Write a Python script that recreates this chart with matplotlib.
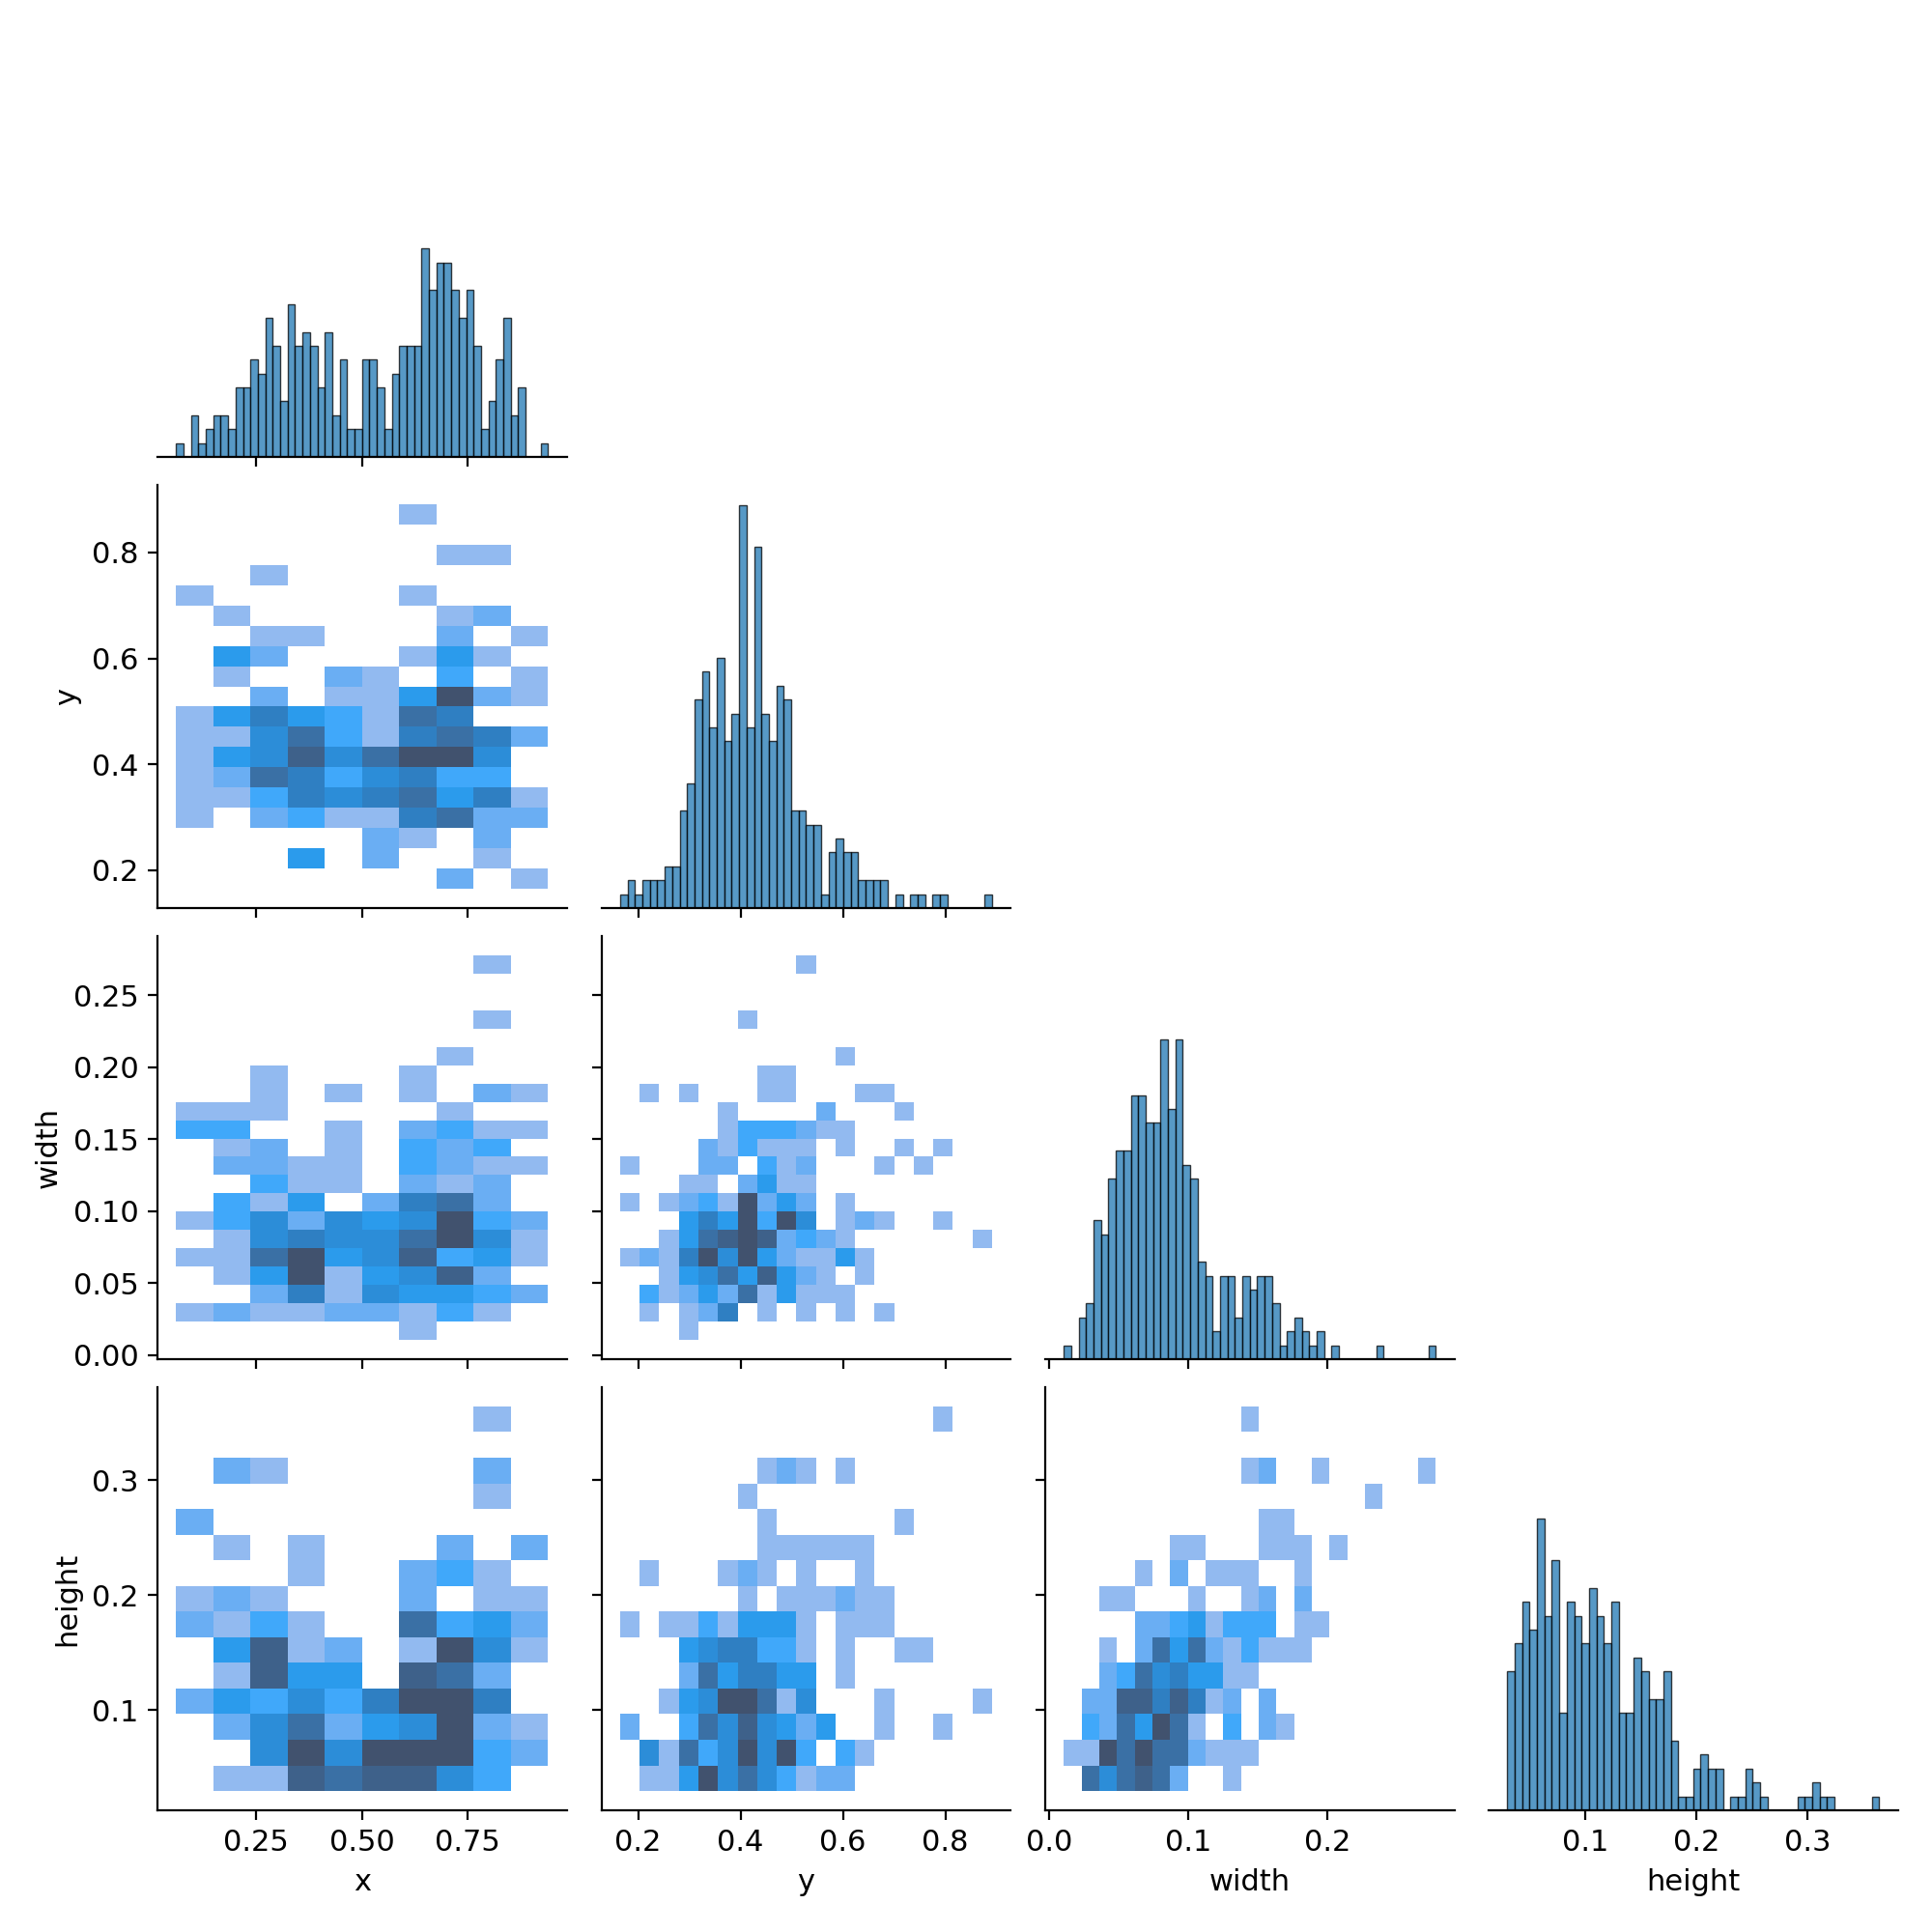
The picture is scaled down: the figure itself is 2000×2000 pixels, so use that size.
import numpy as np
import matplotlib
matplotlib.use('Agg')
import matplotlib.pyplot as plt
from matplotlib.colors import ListedColormap

# counts per bin of the diagonal histograms (50 bins each)
x_counts = [1,0,3,1,2,3,3,2,5,5,7,6,10,8,4,11,8,9,8,5,9,3,7,2,2,7,7,5,2,6,8,8,8,15,12,14,14,12,10,12,8,2,4,7,10,3,5,0,0,1]
y_counts = [1,2,1,2,2,2,3,3,7,9,15,17,13,18,12,14,29,13,26,14,12,16,15,7,7,6,6,1,4,5,4,4,2,2,2,2,0,1,0,1,1,0,1,1,0,0,0,0,0,1]
width_counts = [1,0,3,4,10,9,13,15,15,19,19,17,17,23,18,23,14,13,7,6,2,6,6,3,6,5,6,6,4,1,2,3,2,1,2,0,1,0,0,0,0,0,1,0,0,0,0,0,0,1]
height_counts = [10,12,15,13,21,14,18,7,15,14,12,16,14,12,15,7,7,11,10,8,8,10,5,1,1,3,4,3,3,0,1,1,3,2,1,0,0,0,0,1,1,2,1,1,0,0,0,0,0,1]

x_range = (0.061, 0.9398)
y_range = (0.1648, 0.8912)
width_range = (0.0106, 0.2778)
height_range = (0.0295, 0.3641)

x_ticks = [0.25, 0.50, 0.75]
y_ticks = [0.2, 0.4, 0.6, 0.8]
width_xticks = [0.0, 0.1, 0.2]
width_yticks = [0.00, 0.05, 0.10, 0.15, 0.20, 0.25]
height_ticks = [0.1, 0.2, 0.3]

# 2d histograms, colour step per cell, top row first
y_vs_x = [
    [0,0,0,0,0,0,1,0,0,0],
    [0,0,0,0,0,0,0,0,0,0],
    [0,0,0,0,0,0,0,1,1,0],
    [0,0,1,0,0,0,0,0,0,0],
    [1,0,0,0,0,0,1,0,0,0],
    [0,1,0,0,0,0,0,1,2,0],
    [0,0,1,1,0,0,0,2,0,1],
    [0,4,2,0,0,0,1,4,1,0],
    [0,1,0,0,2,1,0,3,0,1],
    [0,0,2,0,1,1,4,9,2,1],
    [1,4,6,4,3,1,7,6,0,0],
    [1,1,5,7,3,1,6,7,6,2],
    [1,4,5,8,5,7,9,9,5,0],
    [1,2,7,6,3,5,6,3,3,0],
    [1,1,3,6,5,6,7,4,6,1],
    [1,0,2,3,1,1,6,7,2,2],
    [0,0,0,0,0,2,1,0,2,0],
    [0,0,0,4,0,2,0,0,1,0],
    [0,0,0,0,0,0,0,2,0,1],
]
width_vs_x = [
    [0,0,0,0,0,0,0,0,1,0],
    [0,0,0,0,0,0,0,0,0,0],
    [0,0,0,0,0,0,0,0,0,0],
    [0,0,0,0,0,0,0,0,1,0],
    [0,0,0,0,0,0,0,0,0,0],
    [0,0,0,0,0,0,0,1,0,0],
    [0,0,1,0,0,0,1,0,0,0],
    [0,0,1,0,1,0,1,0,2,1],
    [1,1,1,0,0,0,0,1,0,0],
    [3,3,0,0,1,0,2,3,1,1],
    [0,1,2,0,1,0,3,2,3,0],
    [0,2,2,1,1,0,3,2,1,1],
    [0,0,3,1,1,0,2,1,2,0],
    [0,3,1,4,0,2,6,7,2,0],
    [1,3,5,2,5,4,5,9,3,2],
    [0,1,5,6,5,5,7,9,5,1],
    [1,1,7,9,4,5,8,3,4,1],
    [0,1,4,9,1,4,5,8,2,0],
    [0,0,2,6,1,5,4,4,3,2],
    [1,2,1,1,2,2,1,3,1,0],
    [0,0,0,0,0,0,1,0,0,0],
]
width_vs_y = [
    [0,0,0,0,0,0,0,0,0,1,0,0,0,0,0,0,0,0,0],
    [0,0,0,0,0,0,0,0,0,0,0,0,0,0,0,0,0,0,0],
    [0,0,0,0,0,0,0,0,0,0,0,0,0,0,0,0,0,0,0],
    [0,0,0,0,0,0,1,0,0,0,0,0,0,0,0,0,0,0,0],
    [0,0,0,0,0,0,0,0,0,0,0,0,0,0,0,0,0,0,0],
    [0,0,0,0,0,0,0,0,0,0,0,1,0,0,0,0,0,0,0],
    [0,0,0,0,0,0,0,1,1,0,0,0,0,0,0,0,0,0,0],
    [0,1,0,1,0,0,0,1,1,0,0,0,1,1,0,0,0,0,0],
    [0,0,0,0,0,1,0,0,0,0,2,0,0,0,1,0,0,0,0],
    [0,0,0,0,0,1,3,3,3,2,1,1,0,0,0,0,0,0,0],
    [0,0,0,0,2,1,3,1,1,1,0,1,0,0,1,0,1,0,0],
    [1,0,0,0,2,2,0,3,1,2,0,0,0,1,0,1,0,0,0],
    [0,0,0,1,1,0,2,4,1,1,0,0,0,0,0,0,0,0,0],
    [1,0,1,2,3,1,9,2,4,2,0,1,0,0,0,0,0,0,0],
    [0,0,0,4,6,4,9,3,9,5,0,1,2,1,0,0,1,0,0],
    [0,0,1,4,7,8,9,8,2,3,2,1,0,0,0,0,0,0,1],
    [1,2,1,6,9,5,9,4,2,1,1,4,1,0,0,0,0,0,0],
    [0,0,1,4,5,7,4,8,4,2,1,0,1,0,0,0,0,0,0],
    [0,3,1,2,4,2,7,1,4,1,1,1,0,0,0,0,0,0,0],
    [0,1,0,1,2,6,0,1,0,1,0,1,0,1,0,0,0,0,0],
    [0,0,0,1,0,0,0,0,0,0,0,0,0,0,0,0,0,0,0],
]
height_vs_x = [
    [0,0,0,0,0,0,0,0,1,0],
    [0,0,0,0,0,0,0,0,0,0],
    [0,2,1,0,0,0,0,0,2,0],
    [0,0,0,0,0,0,0,0,1,0],
    [2,0,0,0,0,0,0,0,0,0],
    [0,1,0,1,0,0,0,2,0,2],
    [0,0,0,1,0,0,2,3,1,0],
    [1,2,1,0,0,0,2,0,1,1],
    [2,1,3,1,0,0,7,3,4,2],
    [0,4,8,1,2,0,1,9,5,1],
    [0,1,8,4,4,0,8,7,2,0],
    [2,4,3,5,3,6,9,9,6,0],
    [0,2,5,7,2,4,5,9,2,1],
    [0,0,5,9,5,9,9,9,3,2],
    [0,1,1,8,7,8,8,5,3,0],
]
height_vs_y = [
    [0,0,0,0,0,0,0,0,0,0,0,0,0,0,0,0,1,0,0],
    [0,0,0,0,0,0,0,0,0,0,0,0,0,0,0,0,0,0,0],
    [0,0,0,0,0,0,0,1,2,1,0,1,0,0,0,0,0,0,0],
    [0,0,0,0,0,0,1,0,0,0,0,0,0,0,0,0,0,0,0],
    [0,0,0,0,0,0,0,1,0,0,0,0,0,0,1,0,0,0,0],
    [0,0,0,0,0,0,0,1,1,1,1,1,1,0,0,0,0,0,0],
    [0,1,0,0,0,1,2,1,0,1,0,0,1,0,0,0,0,0,0],
    [0,0,0,0,0,0,1,0,1,1,1,2,1,1,0,0,0,0,0],
    [1,0,1,1,3,1,4,4,4,1,0,1,1,1,0,0,0,0,0],
    [0,0,0,4,5,6,6,3,3,1,0,1,0,0,1,1,0,0,0],
    [0,0,0,2,7,4,6,6,4,4,0,1,0,0,0,0,0,0,0],
    [0,0,1,4,5,9,9,7,1,5,0,0,0,1,0,0,0,0,1],
    [2,0,0,3,7,5,8,5,4,2,4,0,0,1,0,0,1,0,0],
    [0,5,1,7,3,5,9,5,9,3,0,3,1,0,0,0,0,0,0],
    [0,1,1,4,9,5,7,5,3,1,2,2,0,0,0,0,0,0,0],
]
height_vs_width = [
    [0,0,0,0,0,0,0,0,0,0,1,0,0,0,0,0,0,0,0,0,0],
    [0,0,0,0,0,0,0,0,0,0,0,0,0,0,0,0,0,0,0,0,0],
    [0,0,0,0,0,0,0,0,0,0,1,2,0,0,1,0,0,0,0,0,1],
    [0,0,0,0,0,0,0,0,0,0,0,0,0,0,0,0,0,1,0,0,0],
    [0,0,0,0,0,0,0,0,0,0,0,1,1,0,0,0,0,0,0,0,0],
    [0,0,0,0,0,0,1,1,0,0,0,1,1,1,0,1,0,0,0,0,0],
    [0,0,0,0,1,0,2,0,1,1,1,0,0,1,0,0,0,0,0,0,0],
    [0,0,1,1,0,0,0,1,0,0,1,2,0,2,0,0,0,0,0,0,0],
    [0,0,0,0,2,2,3,4,1,3,3,3,0,1,1,0,0,0,0,0,0],
    [0,0,1,0,2,7,4,7,2,1,3,1,1,1,0,0,0,0,0,0,0],
    [0,0,2,3,7,5,6,4,4,1,1,0,0,0,0,0,0,0,0,0,0],
    [0,2,2,8,8,6,8,6,1,2,0,2,0,0,0,0,0,0,0,0,0],
    [0,3,2,7,4,9,7,1,0,3,0,2,1,0,0,0,0,0,0,0,0],
    [1,1,9,7,9,7,7,2,1,1,1,0,0,0,0,0,0,0,0,0,0],
    [0,7,5,7,8,7,2,0,0,1,0,0,0,0,0,0,0,0,0,0,0],
]

step_colors = ['#92baf0', '#6aaef3', '#40a8fa', '#2b9bec', '#2c8dd8',
               '#2f7fc2', '#3a70a5', '#3e618a', '#41526e']
cmap = ListedColormap(step_colors)

plt.rcParams['font.size'] = 11


def with_margin(lo_hi):
    pad = (lo_hi[1] - lo_hi[0]) * 0.05
    return lo_hi[0] - pad, lo_hi[1] + pad


def hist_panel(ax, counts, lo_hi):
    edges = np.linspace(lo_hi[0], lo_hi[1], len(counts) + 1)
    ax.bar(edges[:-1], counts, width=np.diff(edges), align='edge', color='#1f77b4',
           edgecolor='black', linewidth=0.5, alpha=0.75)
    ax.set_ylim(0, 30.45)
    ax.spines['left'].set_visible(False)
    ax.set_yticks([])


def cell_panel(ax, steps, x_lohi, y_lohi):
    z = np.array(steps, dtype=float)[::-1]
    xe = np.linspace(x_lohi[0], x_lohi[1], z.shape[1] + 1)
    ye = np.linspace(y_lohi[0], y_lohi[1], z.shape[0] + 1)
    ax.pcolormesh(xe, ye, np.ma.masked_equal(z, 0), cmap=cmap, vmin=0.5, vmax=9.5)
    ax.set_ylim(*with_margin(y_lohi))


fig = plt.figure(figsize=(10, 10), dpi=200)

# panel positions in pixels of the 2000 px figure
col_left = [163, 622.7, 1082, 1541]
row_bottom = [473, 940, 1407, 1874]
panel_w = 423.5
panel_h = 438

ranges = [x_range, y_range, width_range, height_range]
xticks = [x_ticks, y_ticks, width_xticks, height_ticks]
yticks = [None, y_ticks, width_yticks, height_ticks]
names = ['x', 'y', 'width', 'height']
diag = [x_counts, y_counts, width_counts, height_counts]
cells = {(1, 0): y_vs_x, (2, 0): width_vs_x, (2, 1): width_vs_y,
         (3, 0): height_vs_x, (3, 1): height_vs_y, (3, 2): height_vs_width}

for row in range(4):
    for col in range(row + 1):
        ax = fig.add_axes([col_left[col] / 2000, 1 - row_bottom[row] / 2000,
                           panel_w / 2000, panel_h / 2000])
        if row == col:
            hist_panel(ax, diag[row], ranges[row])
        else:
            cell_panel(ax, cells[(row, col)], ranges[col], ranges[row])
            ax.set_yticks(yticks[row])
        ax.set_xlim(*with_margin(ranges[col]))
        ax.set_xticks(xticks[col])
        ax.spines['top'].set_visible(False)
        ax.spines['right'].set_visible(False)
        if row == 3:
            ax.set_xlabel(names[col])
        else:
            ax.tick_params(labelbottom=False)
        if col == 0 and row > 0:
            ax.set_ylabel(names[row])
        elif row != col:
            ax.tick_params(labelleft=False)

fig.savefig('out.png', dpi=200)
